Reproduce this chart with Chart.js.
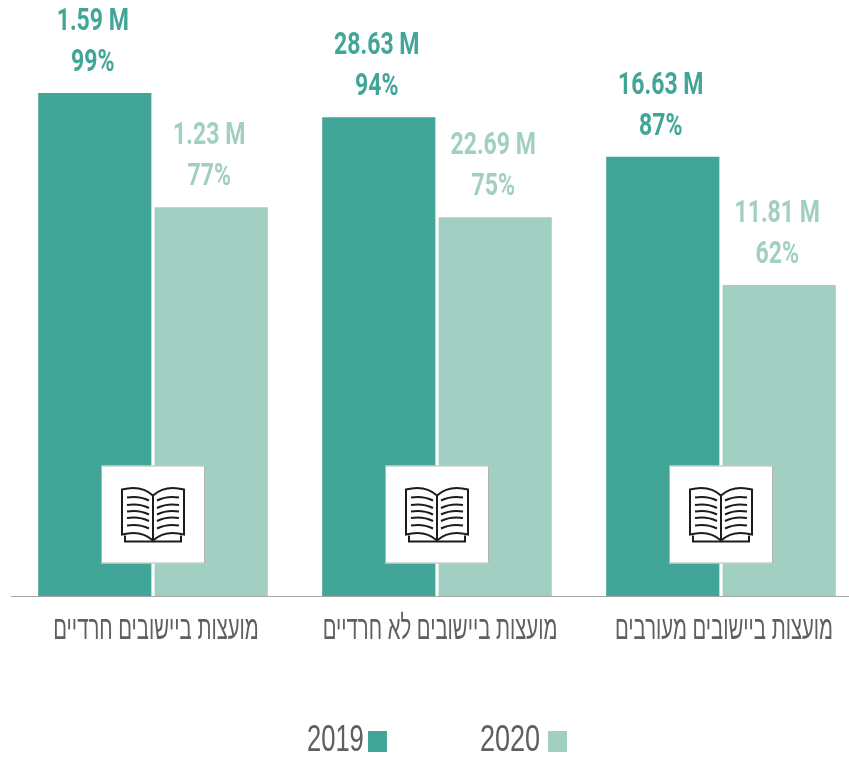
<!DOCTYPE html>
<html lang="he">
<head>
<meta charset="utf-8">
<title>מועצות ביישובים</title>
<script src="https://cdn.jsdelivr.net/npm/chart.js@4/dist/chart.umd.min.js"></script>
<style>
    html, body { margin: 0; padding: 0; background: #fff; overflow: hidden; }
    #wrap { width: 849px; height: 757px; overflow: hidden; }
</style>
</head>
<body>
<div id="wrap"><canvas id="chart" width="864" height="757"></canvas></div>
<script>
var categories = ["מועצות ביישובים חרדיים", "מועצות ביישובים לא חרדיים", "מועצות ביישובים מעורבים"];
var seriesNames = ["2019", "2020"];
// bar heights, the printed percents are rounded
var values2019 = [99.6, 94.8, 87];
var values2020 = [77, 75, 61.6];
var percents2019 = ["99%", "94%", "87%"];
var percents2020 = ["77%", "75%", "62%"];
var millions2019 = ["1.59 M", "28.63 M", "16.63 M"];
var millions2020 = ["1.23 M", "22.69 M", "11.81 M"];

var GREEN = "#41a597";
var LIGHT = "#a1cfc2";
var GREY = "#5f5f5f";

// the original font is very condensed, none installed is, so squeeze the text sideways
function squeezed(ctx, text, x, y, sx) {
    ctx.save();
    ctx.translate(x, y);
    ctx.scale(sx, 1);
    ctx.fillText(text, 0, 0);
    ctx.restore();
}

function drawBook(ctx, cx, cy) {
    ctx.save();
    ctx.fillStyle = "#fff";
    ctx.strokeStyle = "#b4b4b4";
    ctx.lineWidth = 1;
    ctx.fillRect(cx - 52, cy - 49, 104, 98);
    ctx.strokeRect(cx - 51.5, cy - 48.5, 103, 97);
    ctx.translate(cx, cy);
    ctx.strokeStyle = "#1c1c1c";
    ctx.lineWidth = 2;
    [-1, 1].forEach(function (s) {
        ctx.beginPath();
        ctx.moveTo(0, -19);
        ctx.quadraticCurveTo(s * 12, -30, s * 31, -25);
        ctx.lineTo(s * 31, 20);
        ctx.quadraticCurveTo(s * 12, 15, 0, 26);
        ctx.stroke();
        ctx.beginPath();
        ctx.moveTo(s * 28, 21);
        ctx.lineTo(s * 28, 27);
        ctx.lineTo(0, 27);
        ctx.stroke();
        [-17, -9.5, -3, 3.5, 11].forEach(function (y) {
            ctx.beginPath();
            ctx.moveTo(s * 26, y);
            ctx.quadraticCurveTo(s * 14, y - 2, s * 4, y + 3);
            ctx.stroke();
        });
    });
    ctx.beginPath();
    ctx.moveTo(0, -19);
    ctx.lineTo(0, 27);
    ctx.stroke();
    ctx.restore();
}

var barNotes = {
    id: "barNotes",
    afterDatasetsDraw: function (chart) {
        var ctx = chart.ctx;
        var xScale = chart.scales.x;
        var texts = [millions2019, millions2020];
        var percents = [percents2019, percents2020];
        var colours = [GREEN, LIGHT];

        ctx.save();
        ctx.textAlign = "center";
        ctx.textBaseline = "middle";
        ctx.font = "bold 32px Roboto";
        chart.data.datasets.forEach(function (ds, d) {
            chart.getDatasetMeta(d).data.forEach(function (bar, i) {
                ctx.fillStyle = colours[d];
                squeezed(ctx, texts[d][i], bar.x - 2, bar.y - 71, 0.72);
                squeezed(ctx, percents[d][i], bar.x - 2, bar.y - 30, 0.72);
            });
        });

        // category labels
        ctx.fillStyle = GREY;
        ctx.font = "33px 'Liberation Sans'";
        categories.forEach(function (c, i) {
            squeezed(ctx, c, xScale.getPixelForValue(i) + 3, 630, 0.615);
        });

        // legend, text to the left of the box
        ctx.textAlign = "left";
        ctx.font = "37px 'Liberation Sans'";
        [307, 480].forEach(function (left, d) {
            squeezed(ctx, seriesNames[d], left, 741, d ? 0.73 : 0.69);
            ctx.fillStyle = colours[d];
            ctx.fillRect(left + (d ? 68 : 61), 731, 19, 21);
            ctx.fillStyle = GREY;
        });
        ctx.restore();

        categories.forEach(function (c, i) {
            drawBook(ctx, xScale.getPixelForValue(i), 514.5);
        });
    }
};

new Chart(document.getElementById("chart"), {
    type: "bar",
    data: {
        labels: categories,
        datasets: [
            { label: seriesNames[0], data: values2019, backgroundColor: GREEN, categoryPercentage: 0.82, barPercentage: 0.972 },
            { label: seriesNames[1], data: values2020, backgroundColor: LIGHT, categoryPercentage: 0.82, barPercentage: 0.972 }
        ]
    },
    options: {
        responsive: false,
        animation: false,
        layout: { padding: { top: 91, left: 11, right: 1, bottom: 153 } },
        plugins: {
            tooltip: { enabled: false },
            legend: { display: false }
        },
        scales: {
            x: {
                grid: { display: false },
                border: { color: "#a6a6a6", width: 1 },
                ticks: { display: false }
            },
            y: { display: false, min: 0, max: 100 }
        }
    },
    plugins: [barNotes]
});
</script>
</body>
</html>
